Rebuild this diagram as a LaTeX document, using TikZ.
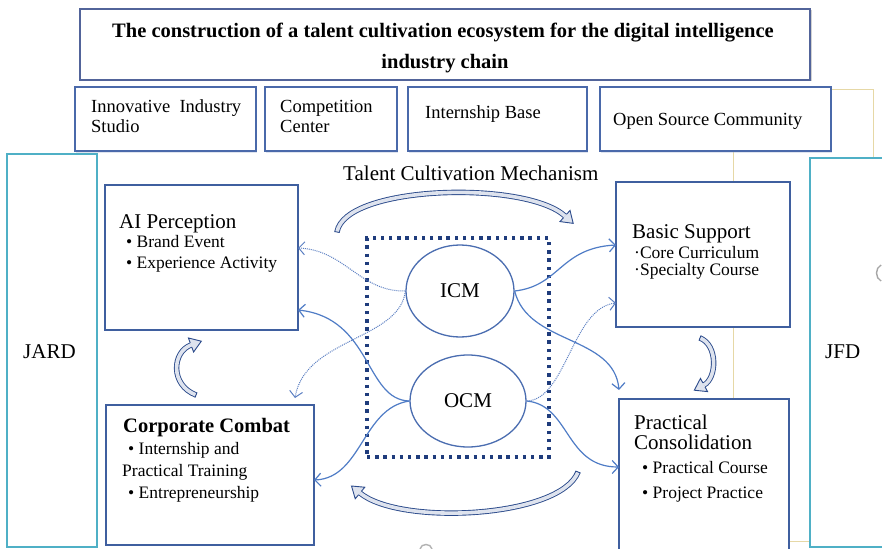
\documentclass[tikz,border=0pt]{standalone}
\usepackage{fontspec}
\setmainfont{Liberation Serif}
\usetikzlibrary{calc,arrows.meta,shadows,shapes.geometric}

\definecolor{framenavy}{HTML}{52649A}
\definecolor{tileblue}{HTML}{4A69AA}
\definecolor{panelblue}{HTML}{3F5F9F}
\definecolor{sideteal}{HTML}{4FB0C6}
\definecolor{guidetan}{HTML}{E6D8A6}
\definecolor{flowblue}{HTML}{4F7CC6}
\definecolor{hintblue}{HTML}{5A7EC2}
\definecolor{corenavy}{HTML}{1F3C7C}
\definecolor{ringblue}{HTML}{4A6DB0}
\definecolor{bandnavy}{HTML}{2B4A8B}
\definecolor{bandfill}{HTML}{DEE3EE}

\tikzset{
  box/.style={rectangle, inner sep=0pt, outer sep=0pt, fill=white},
  titlebox/.style={box, draw=framenavy, line width=2pt,
    drop shadow={shadow xshift=1.5pt, shadow yshift=-1.5pt, opacity=0.35}},
  tile/.style={box, draw=tileblue, line width=1.8pt,
    drop shadow={shadow xshift=1pt, shadow yshift=-2pt, fill=tileblue!50, opacity=0.35}},
  panel/.style={box, draw=panelblue, line width=1.2pt},
  side/.style={box, draw=sideteal, line width=1.3pt},
  ring/.style={ellipse, draw=ringblue, line width=1.3pt, fill=white, inner sep=0pt,
    font=\fontsize{21pt}{24pt}\selectfont},
  core/.style={rectangle, draw=corenavy, line width=3.4pt, dash pattern=on 3.4pt off 4.8pt,
    minimum width=182pt, minimum height=219pt, inner sep=0pt},
  flow/.style={draw=flowblue, line width=1.2pt,
    -{Straight Barb[length=6pt,width=13pt,line width=1.2pt]}},
  hint/.style={draw=hintblue, line width=1pt, dash pattern=on 1pt off 1pt,
    -{Straight Barb[length=6pt,width=13pt,line width=1pt]}},
  ttl/.style={inner sep=0pt, anchor=base, font=\bfseries\fontsize{20.5pt}{24pt}\selectfont},
  tiletext/.style={inner sep=0pt, anchor=base west, font=\fontsize{18.5pt}{22pt}\selectfont},
  lab/.style={inner sep=0pt, anchor=base west, font=\fontsize{21pt}{24pt}\selectfont},
  sub/.style={inner sep=0pt, anchor=base west, font=\fontsize{17.5pt}{21pt}\selectfont},
  bandline/.style={draw=bandnavy, line width=0.9pt, double=bandfill, double distance=3.6pt},
  bandhead/.style={draw=bandnavy, fill=bandfill, line width=0.9pt, line join=miter},
}

% curved block arrow: tail, two control points, head base
\newcommand\curvedband[4]{%
  \draw[bandline] #1 .. controls #2 and #3 .. #4;
  \coordinate (cb-a) at #1;
  \coordinate (cb-b) at #2;
  \coordinate (cb-c) at #3;
  \coordinate (cb-d) at #4;
  \filldraw[bandhead] ($(cb-d)!2.25pt!90:(cb-c)$) -- ($(cb-d)!7.5pt!90:(cb-c)$)
    -- ($(cb-d)!-11pt!(cb-c)$) -- ($(cb-d)!7.5pt!-90:(cb-c)$) -- ($(cb-d)!2.25pt!-90:(cb-c)$);
  \draw[draw=bandnavy, line width=0.9pt] ($(cb-a)!2.7pt!90:(cb-b)$) -- ($(cb-a)!2.7pt!-90:(cb-b)$);
}

\begin{document}
\begin{tikzpicture}[x=1pt, y=-1pt]
\useasboundingbox (0,0) rectangle (882,548);
\fill[white] (0,0) rectangle (882,548);
\clip (0,0) rectangle (882,548);

% background guide frame on the right
\draw[guidetan, line width=1pt] (733,90) rectangle (873,541);

% heading
\node[titlebox, minimum width=730pt, minimum height=71pt] (head) at (445,44.5) {};
\node[ttl] (head1) at (443,38) {The construction of a talent cultivation ecosystem for the digital intelligence};
\node[ttl] (head2) at (445,69) {industry chain};

% platform tiles
\node[tile, minimum width=181pt, minimum height=64pt] (studio) at (165.5,119) {};
\node[tiletext] (studio1) at (91,113) {\makebox[150pt][l]{Innovative\hfill Industry}};
\node[tiletext] (studio2) at (91,133) {Studio};
\node[tile, minimum width=132pt, minimum height=64pt] (contest) at (331,119) {};
\node[tiletext] (contest1) at (280,113) {Competition};
\node[tiletext] (contest2) at (280,133) {Center};
\node[tile, minimum width=179pt, minimum height=64pt] (intern) at (497.5,119) {};
\node[tiletext] (intern1) at (425,119) {Internship Base};
\node[tile, minimum width=231pt, minimum height=64pt] (oss) at (715.5,119) {};
\node[tiletext] (oss1) at (613,126) {Open Source Community};

% side columns
\node[side, minimum width=90pt, minimum height=393pt] (jard) at (52,350.5) {};
\node[lab] (jardl) at (23,358) {JARD};
\node[side, minimum width=80pt, minimum height=389pt] (jfd) at (850,352.5) {};
\node[lab] (jfdl) at (825,358) {JFD};

% stage panels
\node[panel, minimum width=193pt, minimum height=145pt] (ai) at (201.5,257.5) {};
\node[lab] (ai1) at (119,228) {AI Perception};
\node[sub] (ai2) at (126,247) {• Brand Event};
\node[sub] (ai3) at (126,268) {• Experience Activity};

\node[panel, minimum width=174pt, minimum height=145pt] (bs) at (703,254.5) {};
\node[lab] (bs1) at (632,238) {Basic Support};
\node[sub] (bs2) at (634,258) {·Core Curriculum};
\node[sub] (bs3) at (634,275) {·Specialty Course};

\node[panel, minimum width=208pt, minimum height=140pt] (cc) at (210,475) {};
\node[lab, font=\bfseries\fontsize{20.5pt}{24pt}\selectfont] (cc1) at (123,432) {Corporate Combat};
\node[sub] (cc2) at (128,454) {• Internship and};
\node[sub] (cc3) at (122,476) {Practical Training};
\node[sub] (cc4) at (128,498) {• Entrepreneurship};

\node[panel, minimum width=170pt, minimum height=157pt] (pc) at (704,477.5) {};
\node[lab] (pc1) at (634,429) {Practical};
\node[lab] (pc2) at (634,449) {Consolidation};
\node[sub] (pc3) at (642,473) {• Practical Course};
\node[sub] (pc4) at (642,498) {• Project Practice};

% mechanism core
\node[lab] (mechl) at (343,180) {Talent Cultivation Mechanism};
\node[core] (mech) at (458,347.5) {};
\node[ring, minimum width=108pt, minimum height=92pt] (icm) at (460,291) {ICM};
\node[ring, minimum width=116pt, minimum height=92pt] (ocm) at (468,401) {OCM};

% cycle arrows between stages
\curvedband{(337,232)}{(345,185)}{(525,180)}{(565,216)}
\curvedband{(700,338)}{(718,345)}{(717,378)}{(704,385)}
\curvedband{(578,472)}{(560,518)}{(400,526)}{(360,493)}
\curvedband{(196,395)}{(170,385)}{(172,352)}{(191,345)}

% mechanism links
\draw[flow] (icm.east) .. controls (560,286) and (560,248) .. ([yshift=9.5pt]bs.west);
\draw[flow] (icm.east) .. controls (528,345) and (614,335) .. ([yshift=9pt]pc.north west);
\draw[flow] (ocm.east) .. controls (570,405) and (565,467) .. ([yshift=10.5pt]pc.west);
\draw[flow] (ocm.west) .. controls (365,400) and (372,318) .. ([yshift=20pt]ai.south east);
\draw[flow] (ocm.west) .. controls (362,408) and (362,478) .. ([yshift=65pt]cc.south east);
\draw[hint] (icm.west) .. controls (360,292) and (345,250) .. ([yshift=9.5pt]ai.east);
\draw[hint] (icm.west) .. controls (400,340) and (305,338) .. ([xshift=-19pt,yshift=7pt]cc.north east);
\draw[hint] (ocm.east) .. controls (566,400) and (572,308) .. ([yshift=24pt]bs.south west);

% edge fragments of neighbouring marks
\draw[gray!70, line width=1.4pt] (881,265) .. controls (875,268) and (875,278) .. (881,281);
\draw[gray!60, line width=1.4pt] (420,549) .. controls (421,543) and (431,543) .. (432,549);
\end{tikzpicture}
\end{document}
